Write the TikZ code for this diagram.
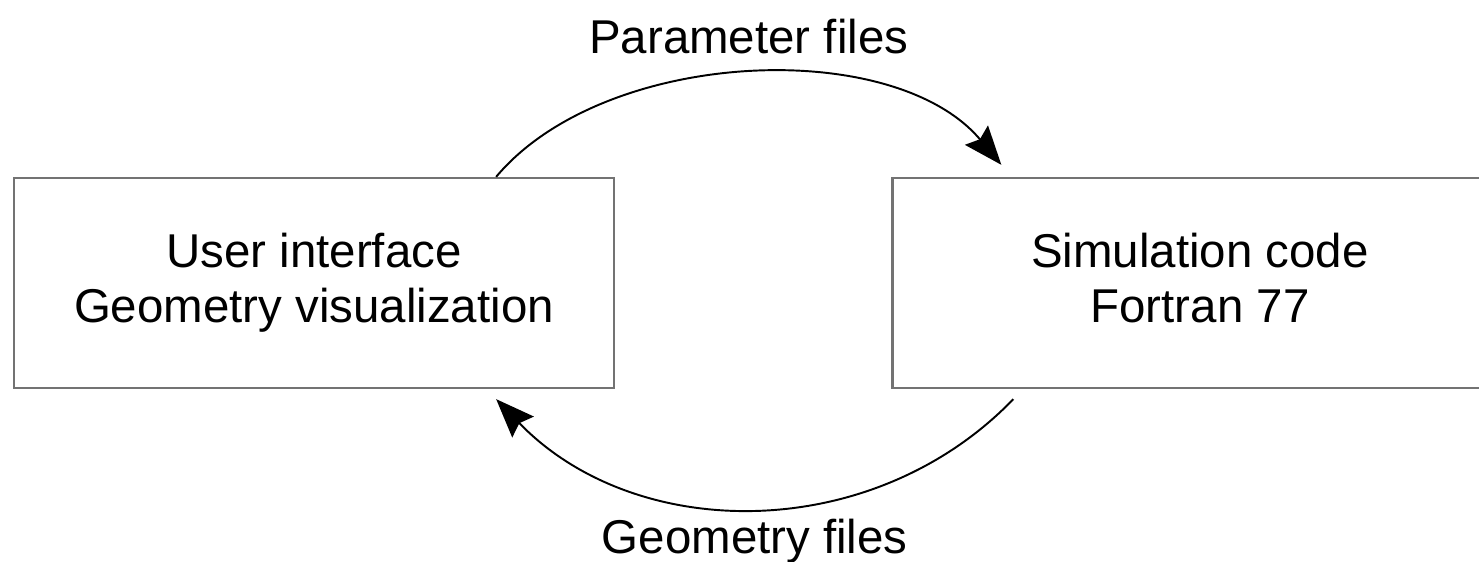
\documentclass[tikz,border=0pt]{standalone}
\usepackage{fontspec}
\setmainfont{Liberation Sans}
\usetikzlibrary{arrows.meta,positioning}

\begin{document}
\begin{tikzpicture}[
    box/.style={draw=black!55,line width=1.3pt,minimum width=12cm,minimum height=4.2cm,
      align=center,font=\fontsize{27}{31.3}\selectfont},
    flow/.style={line width=1.1pt,-{Stealth[length=22pt,width=17pt,inset=3pt]}},
    lbl/.style={font=\fontsize{27}{31.3}\selectfont,inner sep=0pt}]
  \useasboundingbox (0,0) rectangle (29.58,11.24);
  \node[box] (ui) at (6.28,5.58) {User interface\\Geometry visualization};
  \node[box,minimum width=12.3cm] (sim) at (24,5.58) {Simulation code\\Fortran 77\vphantom{y}};
  % files going to the solver
  \draw[flow] ([xshift=-2.38cm]ui.north east) to[out=50,in=130,looseness=0.85]
    node[lbl,anchor=base,yshift=12pt] (params) {Parameter files}
    ([xshift=2.2cm,yshift=0.24cm]sim.north west);
  % files coming back
  \draw[flow] ([xshift=2.44cm,yshift=-0.2cm]sim.south west) to[out=-134,in=-46]
    node[lbl,anchor=base,yshift=-26pt] (geom) {Geometry files}
    ([xshift=-2.38cm,yshift=-0.2cm]ui.south east);
\end{tikzpicture}
\end{document}
